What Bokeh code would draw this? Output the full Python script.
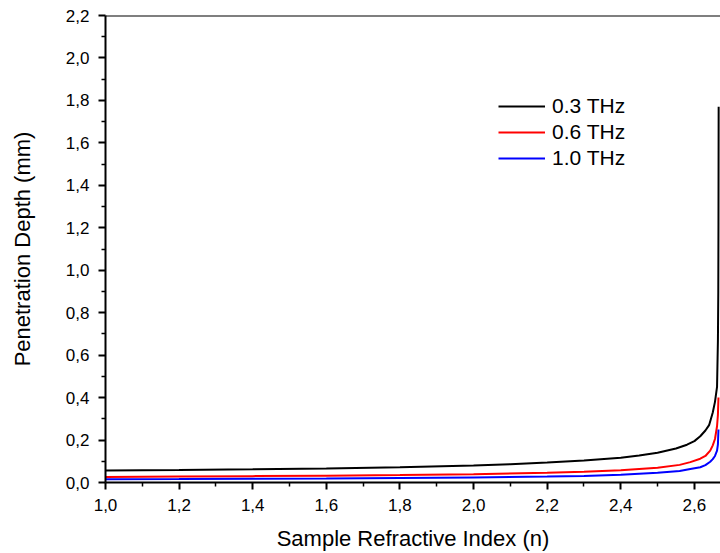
from bokeh.plotting import figure
from bokeh.models import Range1d, FixedTicker, CustomJSTickFormatter, Legend, LegendItem, Span
from bokeh.embed import file_html
from bokeh.resources import INLINE

# Data
n_black = [1.0, 1.2, 1.4, 1.6, 1.8, 2.0, 2.1, 2.2, 2.3, 2.4, 2.45, 2.5, 2.55, 2.58, 2.6, 2.616, 2.63, 2.64, 2.65, 2.656, 2.6616, 2.664, 2.665, 2.6655, 2.666]
d_03thz = [0.057, 0.059, 0.062, 0.066, 0.072, 0.080, 0.086, 0.094, 0.104, 0.117, 0.127, 0.140, 0.160, 0.178, 0.195, 0.218, 0.245, 0.27, 0.33, 0.38, 0.45, 0.67, 0.90, 1.22, 1.77]

n_red = [1.0, 1.2, 1.4, 1.6, 1.8, 2.0, 2.2, 2.3, 2.4, 2.45, 2.5, 2.56, 2.589, 2.616, 2.63, 2.643, 2.65, 2.656, 2.6616, 2.664, 2.6655]
d_06thz = [0.026, 0.028, 0.030, 0.032, 0.035, 0.039, 0.046, 0.051, 0.058, 0.064, 0.070, 0.083, 0.096, 0.112, 0.125, 0.150, 0.175, 0.205, 0.265, 0.32, 0.40]

n_blue = [1.0, 1.2, 1.4, 1.6, 1.8, 2.0, 2.2, 2.3, 2.4, 2.45, 2.5, 2.56, 2.589, 2.616, 2.63, 2.643, 2.65, 2.656, 2.6616, 2.664, 2.6655]
d_10thz = [0.015, 0.016, 0.018, 0.019, 0.021, 0.024, 0.028, 0.031, 0.036, 0.041, 0.046, 0.054, 0.064, 0.072, 0.082, 0.098, 0.110, 0.125, 0.150, 0.18, 0.25]

series_labels = ["0.3 THz", "0.6 THz", "1.0 THz"]
series_colors = ["black", "#ff0000", "#0000ff"]

x_ticks = [1.0, 1.2, 1.4, 1.6, 1.8, 2.0, 2.2, 2.4, 2.6]
y_ticks = [0.0, 0.2, 0.4, 0.6, 0.8, 1.0, 1.2, 1.4, 1.6, 1.8, 2.0, 2.2]
x_minor = [1.1, 1.3, 1.5, 1.7, 1.9, 2.1, 2.3, 2.5]
y_minor = [0.1, 0.3, 0.5, 0.7, 0.9, 1.1, 1.3, 1.5, 1.7, 1.9, 2.1]

FONT = "Liberation Sans"

p = figure(width=720, height=553, output_backend="svg", toolbar_location=None,
           x_range=Range1d(1.0, 2.671), y_range=Range1d(0.0, 2.2),
           min_border_left=105, min_border_right=0, min_border_top=15, min_border_bottom=71)
p.outline_line_color = None
p.xgrid.visible = False
p.ygrid.visible = False
p.background_fill_color = "white"
p.border_fill_color = "white"

rends = []
for xs, ys, c in [(n_black, d_03thz, series_colors[0]), (n_red, d_06thz, series_colors[1]), (n_blue, d_10thz, series_colors[2])]:
    rends.append(p.line(xs, ys, line_color=c, line_width=2))

fmt = CustomJSTickFormatter(code="return tick.toFixed(1).replace('.', ',');")
for ax, ticks, minor in [(p.xaxis[0], x_ticks, x_minor), (p.yaxis[0], y_ticks, y_minor)]:
    ax.ticker = FixedTicker(ticks=ticks, minor_ticks=minor)
    ax.formatter = fmt
    ax.axis_line_width = 2
    ax.axis_line_color = "black"
    ax.major_tick_line_width = 2
    ax.minor_tick_line_width = 1.5
    ax.major_tick_out = 7
    ax.major_tick_in = 0
    ax.minor_tick_out = 4
    ax.minor_tick_in = 0
    ax.major_label_text_font = FONT
    ax.major_label_text_font_size = "17px"
    ax.major_label_text_color = "black"
    ax.axis_label_text_font = FONT
    ax.axis_label_text_font_size = "22px"
    ax.axis_label_text_font_style = "normal"
    ax.axis_label_text_color = "black"

p.xaxis.axis_label = "Sample Refractive Index (n)"
p.yaxis.axis_label = "Penetration Depth (mm)"
p.xaxis.major_label_standoff = 9
p.xaxis.axis_label_standoff = 12
p.yaxis.major_label_standoff = 9
p.yaxis.axis_label_standoff = 28

p.add_layout(Span(location=2.2, dimension="width", line_color="black", line_width=2))

legend = Legend(items=[LegendItem(label=l, renderers=[r]) for l, r in zip(series_labels, rends)],
                location=(393, 312), border_line_color=None, background_fill_alpha=0,
                padding=0, margin=0, spacing=2, glyph_width=47, glyph_height=20,
                label_height=20, label_standoff=7,
                label_text_font=FONT, label_text_font_size="21px", label_text_color="black")
p.add_layout(legend)

open("out.html", "w").write(file_html(p, INLINE))
